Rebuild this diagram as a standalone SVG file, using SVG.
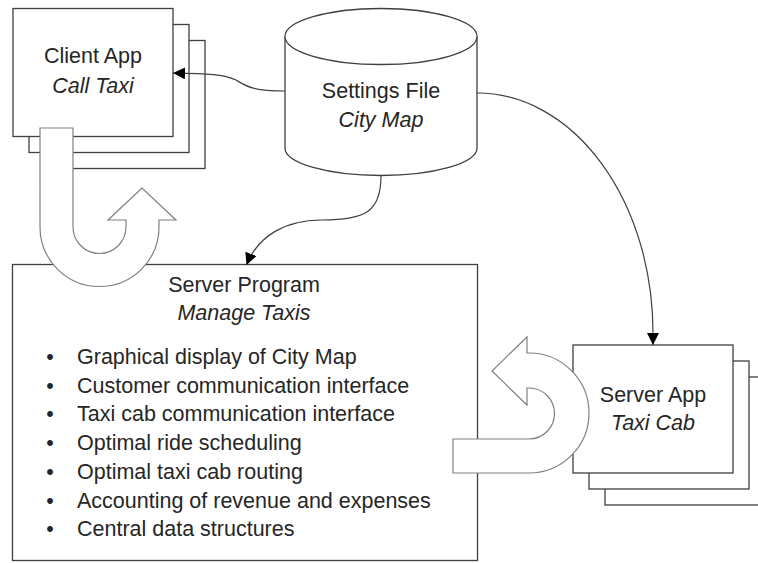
<svg xmlns="http://www.w3.org/2000/svg" width="758" height="563" viewBox="0 0 758 563">
  <style>
    .box { fill: #ffffff; stroke: #404040; stroke-width: 1.3; }
    .block { fill: #ffffff; stroke: #808080; stroke-width: 1.2; stroke-linejoin: miter; }
    .wire { fill: none; stroke: #404040; stroke-width: 1.2; marker-end: url(#tip); }
    text { font-family: "Liberation Sans", Arial, sans-serif; font-size: 21.5px; fill: #262626; }
    .c { text-anchor: middle; }
    .i { font-style: italic; }
  </style>
  <defs>
    <marker id="tip" markerUnits="userSpaceOnUse" markerWidth="13" markerHeight="13" refX="12" refY="6" orient="auto">
      <path d="M0,0 L12,6 L0,12 Z" fill="#000000"/>
    </marker>
  </defs>

  <!-- Server program (main box with feature list) -->
  <g id="server-program">
    <rect class="box" x="12.5" y="264.5" width="465" height="296"/>
    <text class="c" x="244" y="292">Server Program</text>
    <text class="c i" x="244" y="320">Manage Taxis</text>
    <g id="features">
      <text class="c" x="50" y="364">•</text><text x="77" y="364">Graphical display of City Map</text>
      <text class="c" x="50" y="392.7">•</text><text x="77" y="392.7">Customer communication interface</text>
      <text class="c" x="50" y="421.4">•</text><text x="77" y="421.4">Taxi cab communication interface</text>
      <text class="c" x="50" y="450.1">•</text><text x="77" y="450.1">Optimal ride scheduling</text>
      <text class="c" x="50" y="478.8">•</text><text x="77" y="478.8">Optimal taxi cab routing</text>
      <text class="c" x="50" y="507.5">•</text><text x="77" y="507.5">Accounting of revenue and expenses</text>
      <text class="c" x="50" y="536.2">•</text><text x="77" y="536.2">Central data structures</text>
    </g>
  </g>

  <!-- Client app: stacked instances -->
  <g id="client-app">
    <rect class="box" x="45" y="40.5" width="160" height="128"/>
    <rect class="box" x="29" y="24.5" width="160" height="128"/>
    <rect class="box" x="13" y="8.5" width="160" height="128"/>
    <text class="c" x="93" y="63">Client App</text>
    <text class="c i" x="93" y="93">Call Taxi</text>
  </g>

  <!-- Settings file: cylinder -->
  <g id="settings-file">
    <path class="box" d="M285,36.5 L285,148 A96,27.5 0 0 0 477,148 L477,36.5 A96,28 0 0 0 285,36.5 Z"/>
    <path class="box" d="M285,36.5 A96,28 0 0 0 477,36.5" fill="none"/>
    <text class="c" x="381" y="98">Settings File</text>
    <text class="c i" x="381" y="127">City Map</text>
  </g>

  <!-- Server app: stacked instances -->
  <g id="server-app">
    <rect class="box" x="605" y="377" width="160" height="128"/>
    <rect class="box" x="589" y="361" width="160" height="128"/>
    <rect class="box" x="573" y="345" width="160" height="128"/>
    <text class="c" x="653" y="402">Server App</text>
    <text class="c i" x="653" y="430">Taxi Cab</text>
  </g>

  <!-- Data flow connectors -->
  <g id="connectors">
    <path class="wire" d="M285,91 C252,91 246,86 236,80 C224,74 210,74 173,73"/>
    <path class="wire" d="M381,176 C381,212 365,220 322,220 C285,220 258,236 246.5,265"/>
    <path class="wire" d="M477,93 A176,240 0 0 1 653,333 L653,345"/>
  </g>

  <!-- Request/response loops -->
  <g id="client-loop">
    <path class="block" d="M40,128 L40,227 A59.5,59.5 0 0 0 159,227 L159,220 L176,220 L142,188 L108,220 L126,220 L126,227 A26.5,26.5 0 0 1 73,227 L73,128 Z"/>
  </g>
  <g id="cab-loop">
    <path class="block" d="M453,473 L529,473 A60,60 0 0 0 529,353 L527,353 L527,337 L492,371 L527,405 L527,388 L529,388 A25.5,25.5 0 0 1 529,439 L453,439 Z"/>
  </g>
</svg>
